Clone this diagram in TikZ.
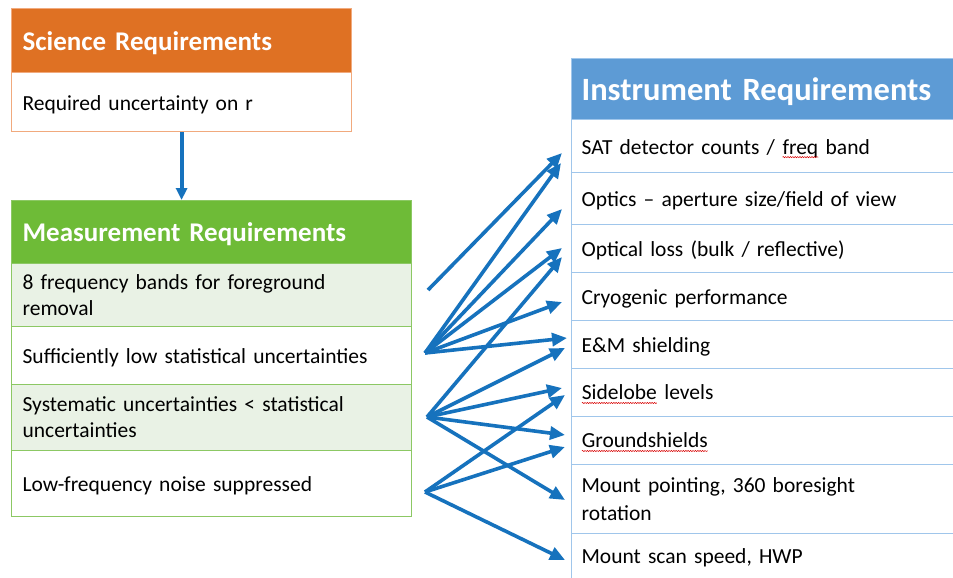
\documentclass[tikz,border=0pt]{standalone}
\usepackage{fontspec}
\setmainfont{Carlito}
\usetikzlibrary{arrows.meta,decorations.pathmorphing}
\definecolor{sciorange}{RGB}{223,113,35}
\definecolor{sciborder}{RGB}{241,170,125}
\definecolor{measgreen}{RGB}{110,187,55}
\definecolor{measborder}{RGB}{140,200,100}
\definecolor{measlight}{RGB}{233,242,229}
\definecolor{instblue}{RGB}{93,155,213}
\definecolor{instborder}{RGB}{160,198,235}
\definecolor{arrowblue}{RGB}{22,114,189}
\newcommand\spellmark[1]{\tikz[baseline=(w.base)]{\node[inner sep=0pt, outer sep=0pt] (w) {#1};
  \draw[red!85!black, line width=0.5pt, decorate, decoration={snake, amplitude=0.6pt, segment length=2.4pt}]
   ([yshift=-3pt]w.base west) -- ([yshift=-3pt]w.base east);}}
\begin{document}
\begin{tikzpicture}[x=1pt,y=-1pt,
  box/.style={anchor=north west, align=left, inner ysep=0pt, line width=1.2pt},
  scibox/.style={box, inner xsep=11pt, text width=318pt, draw=sciborder},
  measbox/.style={box, inner xsep=11pt, text width=378pt, draw=measborder},
  instbox/.style={box, inner xsep=10pt, text width=380pt, draw=instborder},
  hdrtext/.style={font=\fontsize{27}{32}\selectfont\bfseries, text=white},
  rowtext/.style={font=\fontsize{21.5}{26}\selectfont},
  dropby/.style={execute at begin node={\rule{0pt}{#1}}},
  arr/.style={draw=arrowblue, line width=3.6pt, -{Triangle[length=15pt,width=13pt]}},
]
\useasboundingbox (0,0) rectangle (953,578);
\clip (0,0) rectangle (953,578);
\fill[white] (0,0) rectangle (953,578);

% Science requirements
\node[scibox, fill=sciorange, hdrtext, minimum height=64pt, dropby=24pt] (sh) at (11,8) {Science Requirements};
\node[scibox, fill=white, rowtext, minimum height=59pt, dropby=19.5pt] (sb) at (11,72) {Required uncertainty on r};

% Measurement requirements
\node[measbox, fill=measgreen, hdrtext, minimum height=63pt, dropby=24pt] (mh) at (11,200) {Measurement Requirements};
\node[measbox, fill=measlight, rowtext, minimum height=63pt] (m1) at (11,263) {8 frequency bands for foreground\\removal};
\node[measbox, fill=white, rowtext, minimum height=58pt, dropby=19.5pt] (m2) at (11,326) {Sufficiently low statistical uncertainties};
\node[measbox, fill=measlight, rowtext, minimum height=66pt] (m3) at (11,384) {Systematic uncertainties < statistical\\uncertainties};
\node[measbox, fill=white, rowtext, minimum height=66pt, dropby=19.5pt] (m4) at (11,450) {Low-frequency noise suppressed};

% Instrument requirements
\node[instbox, fill=instblue, text=white, font=\fontsize{32.5}{38}\selectfont\bfseries, minimum height=61pt, dropby=28pt] (ih) at (571,58) {Instrument Requirements};
\node[instbox, fill=white, rowtext, minimum height=53pt, dropby=19.5pt] (i1) at (571,119) {SAT detector counts / \spellmark{freq} band};
\node[instbox, fill=white, rowtext, minimum height=52pt, dropby=19pt] (i2) at (571,172) {Optics – aperture size/field of view};
\node[instbox, fill=white, rowtext, minimum height=48pt, dropby=19.5pt] (i3) at (571,224) {Optical loss (bulk / reflective)};
\node[instbox, fill=white, rowtext, minimum height=48pt, dropby=19.5pt] (i4) at (571,272) {Cryogenic performance};
\node[instbox, fill=white, rowtext, minimum height=48pt, dropby=19.5pt] (i5) at (571,320) {E\&M shielding};
\node[instbox, fill=white, rowtext, minimum height=48pt] (i6) at (571,368) {\spellmark{Sidelobe} levels};
\node[instbox, fill=white, rowtext, minimum height=48pt] (i7) at (571,416) {\spellmark{Groundshields}};
\node[instbox, fill=white, rowtext, minimum height=69pt, font=\fontsize{21.5}{28}\selectfont] (i8) at (571,464) {Mount pointing, 360 boresight\\rotation};
\node[instbox, fill=white, rowtext, minimum height=48pt] (i9) at (571,533) {Mount scan speed, HWP};

% Science -> Measurement
\draw[arr, line width=3.8pt, -{Triangle[length=12pt,width=11pt]}] (sb.south) -- (sb.south |- mh.north);

% arrow sources
\coordinate (s1) at (428,290);
\coordinate (s2) at (425,353);
\coordinate (s3) at (427,417);
\coordinate (s4) at (425,492);
% arrow targets
\coordinate (t1a) at (562,153);
\coordinate (t1b) at (561,163);
\coordinate (t2)  at (562,209);
\coordinate (t3a) at (562,248);
\coordinate (t3b) at (562,257);
\coordinate (t4)  at (562,302);
\coordinate (t5a) at (567,338);
\coordinate (t5b) at (565,348);
\coordinate (t6a) at (562,388);
\coordinate (t6b) at (565,395);
\coordinate (t7a) at (565,435);
\coordinate (t7b) at (565,447);
\coordinate (t8)  at (565,500);
\coordinate (t9)  at (565,560);

\draw[arr] (s1) -- (t1a);
\draw[arr] (s2) -- (t1b);
\draw[arr] (s2) -- (t2);
\draw[arr] (s2) -- (t3a);
\draw[arr] (s2) -- (t4);
\draw[arr] (s2) -- (t5a);
\draw[arr] (s3) -- (t3b);
\draw[arr] (s3) -- (t5b);
\draw[arr] (s3) -- (t6a);
\draw[arr] (s3) -- (t7a);
\draw[arr] (s3) -- (t8);
\draw[arr] (s4) -- (t6b);
\draw[arr] (s4) -- (t7b);
\draw[arr] (s4) -- (t9);
\end{tikzpicture}
\end{document}
